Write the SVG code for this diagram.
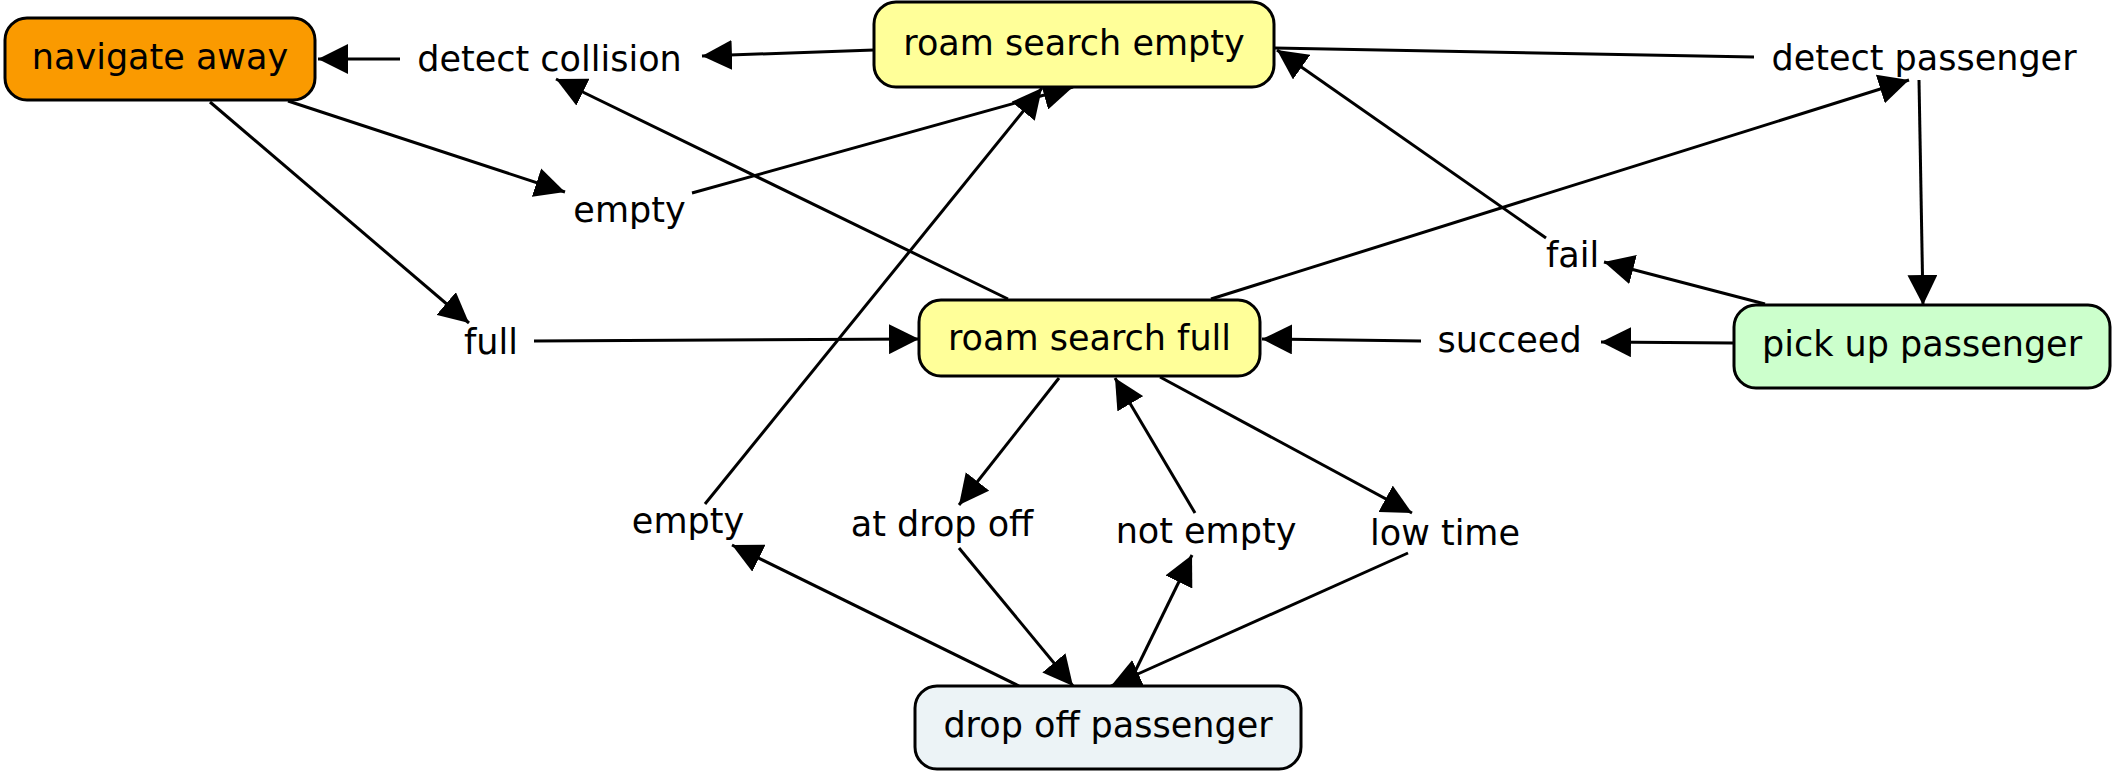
<svg xmlns="http://www.w3.org/2000/svg" width="2116" height="776" viewBox="0 0 2116 776">
<defs>
<marker id="ah" markerUnits="userSpaceOnUse" markerWidth="30" markerHeight="30" refX="30" refY="15" orient="auto" viewBox="0 0 30 30">
<path d="M0,0 L30,15 L0,30 z" fill="#000"/>
</marker>
<style>
.c{stroke:#000;stroke-width:3;fill:none}
.a{marker-end:url(#ah)}
.n{stroke:#000;stroke-width:3}
text{font-family:"DejaVu Sans","Verdana",sans-serif;font-size:35px;fill:#000;text-anchor:middle}
</style>
</defs>
<rect width="2116" height="776" fill="#fff"/>
<g id="connectors">
<line class="c a" x1="874" y1="50" x2="702" y2="56"/>
<line class="c a" x1="400" y1="59" x2="318" y2="59"/>
<line class="c a" x1="288" y1="101" x2="565" y2="192"/>
<line class="c a" x1="692" y1="193" x2="1073" y2="87"/>
<line class="c a" x1="210" y1="102" x2="469" y2="323"/>
<line class="c a" x1="534" y1="341" x2="919" y2="339"/>
<line class="c a" x1="1008" y1="299" x2="556" y2="79"/>
<line class="c a" x1="1211" y1="299" x2="1909" y2="80"/>
<line class="c" x1="1274" y1="48" x2="1754" y2="57"/>
<line class="c a" x1="1919" y1="80" x2="1923" y2="305"/>
<line class="c a" x1="1765" y1="304" x2="1604" y2="262"/>
<line class="c a" x1="1546" y1="238" x2="1277" y2="50"/>
<line class="c a" x1="1733" y1="343" x2="1601" y2="342"/>
<line class="c a" x1="1421" y1="341" x2="1262" y2="339"/>
<line class="c a" x1="1059" y1="378" x2="959" y2="505"/>
<line class="c a" x1="959" y1="548" x2="1073" y2="686"/>
<line class="c a" x1="1128" y1="686" x2="1192" y2="555"/>
<line class="c a" x1="1195" y1="513" x2="1115" y2="378"/>
<line class="c a" x1="1160" y1="377" x2="1412" y2="513"/>
<line class="c a" x1="1408" y1="553" x2="1111" y2="686"/>
<line class="c a" x1="1019" y1="686" x2="732" y2="545"/>
<line class="c a" x1="705" y1="504" x2="1042" y2="88"/>
</g>
<g id="navigate-away">
<rect class="n" x="5" y="18" width="310" height="82" rx="22" fill="#fa9a00"/>
<text x="160" y="69">navigate away</text>
</g>
<g id="roam-search-empty">
<rect class="n" x="874" y="2" width="400" height="85" rx="22" fill="#ffff99"/>
<text x="1074" y="55">roam search empty</text>
</g>
<g id="roam-search-full">
<rect class="n" x="919" y="300" width="341" height="76" rx="22" fill="#ffff99"/>
<text x="1089.5" y="350">roam search full</text>
</g>
<g id="pick-up-passenger">
<rect class="n" x="1734" y="305" width="376" height="83" rx="22" fill="#ccffcc"/>
<text x="1922" y="356">pick up passenger</text>
</g>
<g id="drop-off-passenger">
<rect class="n" x="915" y="686" width="386" height="83" rx="22" fill="#ecf3f6"/>
<text x="1108" y="737">drop off passenger</text>
</g>
<g id="labels">
<text x="549.5" y="71">detect collision</text>
<text x="1924" y="70">detect passenger</text>
<text x="629.5" y="222">empty</text>
<text x="491" y="354">full</text>
<text x="1572.5" y="267">fail</text>
<text x="1509.5" y="352">succeed</text>
<text x="688" y="533">empty</text>
<text x="942" y="536">at drop off</text>
<text x="1206" y="543">not empty</text>
<text x="1445" y="545">low time</text>
</g>
</svg>
